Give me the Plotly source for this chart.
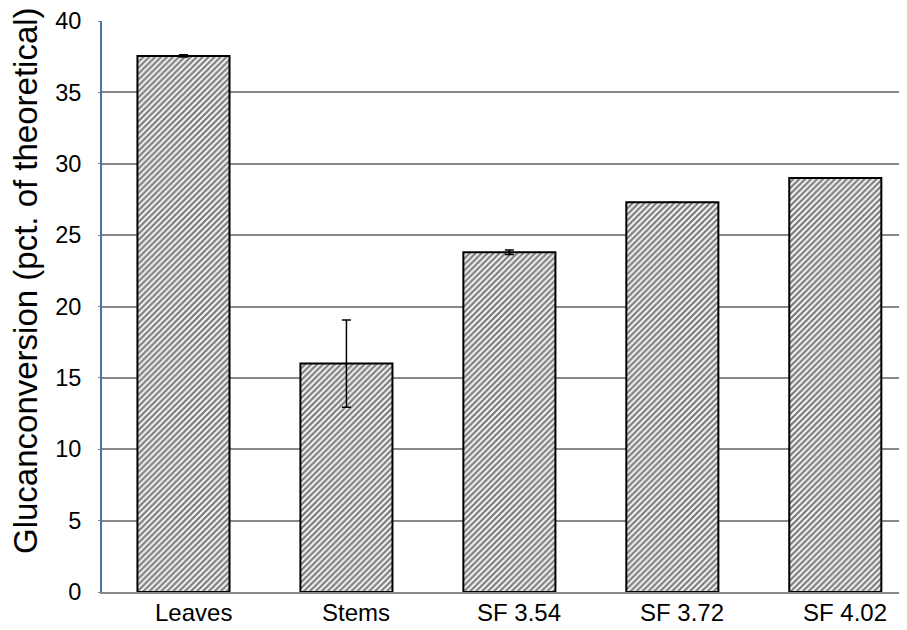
import plotly.graph_objects as go

categories = ["Leaves", "Stems", "SF 3.54", "SF 3.72", "SF 4.02"]
values = [37.55, 16.0, 23.8, 27.3, 29.0]
errors = [0.08, 3.05, 0.15, 0.0, 0.0]
y_ticks = [0, 5, 10, 15, 20, 25, 30, 35, 40]
y_title = "Glucanconversion (pct. of theoretical)"

fig = go.Figure()
fig.add_trace(go.Bar(
    x=categories, y=values,
    width=0.565,
    marker=dict(color="white",
                line=dict(color="black", width=2),
                pattern=dict(shape="/", fgcolor="black", bgcolor="white",
                             size=4.2, solidity=0.55)),
    error_y=dict(type="data", array=errors, visible=True,
                 color="black", thickness=1.5, width=4.5),
))

# page has an 8px body margin, so figure is offset by 8px
L, T, B, W, H = 94, 13, 38, 899, 622
fig.update_layout(
    width=W, height=H,
    margin=dict(l=L, r=0, t=T, b=B),
    plot_bgcolor="white", paper_bgcolor="white",
    showlegend=False,
    font=dict(family="Liberation Sans, Arial, sans-serif", color="black"),
)
fig.update_xaxes(
    range=[-0.5, 4.44], automargin=False,
    showline=True, linecolor="#888888", linewidth=2,
    showticklabels=False, ticks="", showgrid=False,
)
fig.update_yaxes(
    range=[0, 40], tickvals=y_ticks, automargin=False,
    showgrid=True, gridcolor="#888888", gridwidth=2,
    showline=True, linecolor="#4a74a8", linewidth=2,
    ticks="outside", tickcolor="#888888", ticklen=2,
    tickfont=dict(size=23.5), zeroline=False,
    ticklabelstandoff=12,
)
# category labels sit slightly right of the bar centres, as in the reference
for cat in categories:
    fig.add_annotation(
        text=cat, x=cat, xref="x", y=0, yref="paper",
        xanchor="center", yanchor="top", showarrow=False,
        xshift=10, yshift=-5, font=dict(size=24),
    )
plot_h = H - T - B
plot_w = W - L
fig.add_annotation(
    text=y_title, textangle=-90, showarrow=False,
    xref="paper", yref="paper",
    x=(17 - L) / plot_w, y=(H - B - 273) / plot_h,
    xanchor="center", yanchor="middle",
    font=dict(size=33),
)

fig.write_html("out.html")
